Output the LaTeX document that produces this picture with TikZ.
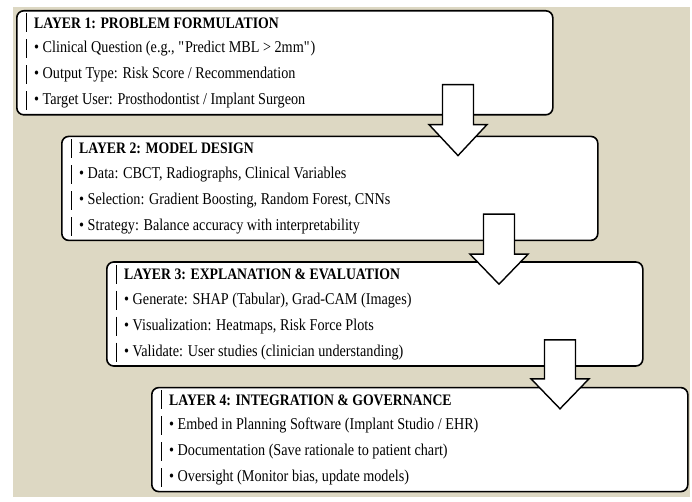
\documentclass[tikz,border=0pt]{standalone}
\usepackage{fontspec}
\setmainfont{Liberation Serif}[FakeStretch=0.86]
\usetikzlibrary{positioning}
\definecolor{bgbeige}{RGB}{221,216,195}

\tikzset{
  layer/.style={rectangle, rounded corners=7pt, draw=black, line width=1.6pt, fill=white, minimum width=536pt, minimum height=104pt},
  heading/.style={anchor=west, inner sep=0pt, font=\fontsize{16}{16}\selectfont\bfseries},
  item/.style={anchor=west, inner sep=0pt, font=\fontsize{16.5}{16.5}\selectfont},
  bar/.style={line width=0.8pt},
  blockarrow/.style={draw=black, line width=1.4pt, fill=white, line join=miter}
}

\begin{document}
\begin{tikzpicture}[x=1pt, y=-1pt]

\useasboundingbox (0,0) rectangle (692,502);
\fill[bgbeige] (13,7) rectangle (690,497);

% layer boxes
\node (l1) [layer, anchor=north west] at (16,10) {};
\node (l2) [layer, below right=20pt and 45pt of l1.south west] {};
\node (l3) [layer, below right=20pt and 45pt of l2.south west] {};
\node (l4) [layer, below right=20pt and 45pt of l3.south west] {};

% layer 1
\node (l1h) [heading] at ([xshift=18pt, yshift=-13pt]l1.north west) {LAYER 1: PROBLEM FORMULATION};
\node (l1a) [item, below=26pt of l1h.west, anchor=west] {• Clinical Question (e.g., \textquotedbl Predict MBL > 2mm\textquotedbl)};
\node (l1b) [item, below=26pt of l1a.west, anchor=west] {• Output Type: Risk Score / Recommendation};
\node (l1c) [item, below=26pt of l1b.west, anchor=west] {• Target User: Prosthodontist / Implant Surgeon};

% layer 2
\node (l2h) [heading] at ([xshift=18pt, yshift=-13pt]l2.north west) {LAYER 2: MODEL DESIGN};
\node (l2a) [item, below=26pt of l2h.west, anchor=west] {• Data: CBCT, Radiographs, Clinical Variables};
\node (l2b) [item, below=26pt of l2a.west, anchor=west] {• Selection: Gradient Boosting, Random Forest, CNNs};
\node (l2c) [item, below=26pt of l2b.west, anchor=west] {• Strategy: Balance accuracy with interpretability};

% layer 3
\node (l3h) [heading] at ([xshift=18pt, yshift=-13pt]l3.north west) {LAYER 3: EXPLANATION \& EVALUATION};
\node (l3a) [item, below=26pt of l3h.west, anchor=west] {• Generate: SHAP (Tabular), Grad-CAM (Images)};
\node (l3b) [item, below=26pt of l3a.west, anchor=west] {• Visualization: Heatmaps, Risk Force Plots};
\node (l3c) [item, below=26pt of l3b.west, anchor=west] {• Validate: User studies (clinician understanding)};

% layer 4
\node (l4h) [heading] at ([xshift=18pt, yshift=-13pt]l4.north west) {LAYER 4: INTEGRATION \& GOVERNANCE};
\node (l4a) [item, below=26pt of l4h.west, anchor=west] {• Embed in Planning Software (Implant Studio / EHR)};
\node (l4b) [item, below=26pt of l4a.west, anchor=west] {• Documentation (Save rationale to patient chart)};
\node (l4c) [item, below=26pt of l4b.west, anchor=west] {• Oversight (Monitor bias, update models)};

% bars in front of the lines
\draw [bar] ([xshift=-8pt, yshift=9.5pt]l1h.west) -- ([xshift=-8pt, yshift=-9.5pt]l1h.west);
\draw [bar] ([xshift=-8pt, yshift=9.5pt]l1a.west) -- ([xshift=-8pt, yshift=-9.5pt]l1a.west);
\draw [bar] ([xshift=-8pt, yshift=9.5pt]l1b.west) -- ([xshift=-8pt, yshift=-9.5pt]l1b.west);
\draw [bar] ([xshift=-8pt, yshift=9.5pt]l1c.west) -- ([xshift=-8pt, yshift=-9.5pt]l1c.west);
\draw [bar] ([xshift=-8pt, yshift=9.5pt]l2h.west) -- ([xshift=-8pt, yshift=-9.5pt]l2h.west);
\draw [bar] ([xshift=-8pt, yshift=9.5pt]l2a.west) -- ([xshift=-8pt, yshift=-9.5pt]l2a.west);
\draw [bar] ([xshift=-8pt, yshift=9.5pt]l2b.west) -- ([xshift=-8pt, yshift=-9.5pt]l2b.west);
\draw [bar] ([xshift=-8pt, yshift=9.5pt]l2c.west) -- ([xshift=-8pt, yshift=-9.5pt]l2c.west);
\draw [bar] ([xshift=-8pt, yshift=9.5pt]l3h.west) -- ([xshift=-8pt, yshift=-9.5pt]l3h.west);
\draw [bar] ([xshift=-8pt, yshift=9.5pt]l3a.west) -- ([xshift=-8pt, yshift=-9.5pt]l3a.west);
\draw [bar] ([xshift=-8pt, yshift=9.5pt]l3b.west) -- ([xshift=-8pt, yshift=-9.5pt]l3b.west);
\draw [bar] ([xshift=-8pt, yshift=9.5pt]l3c.west) -- ([xshift=-8pt, yshift=-9.5pt]l3c.west);
\draw [bar] ([xshift=-8pt, yshift=9.5pt]l4h.west) -- ([xshift=-8pt, yshift=-9.5pt]l4h.west);
\draw [bar] ([xshift=-8pt, yshift=9.5pt]l4a.west) -- ([xshift=-8pt, yshift=-9.5pt]l4a.west);
\draw [bar] ([xshift=-8pt, yshift=9.5pt]l4b.west) -- ([xshift=-8pt, yshift=-9.5pt]l4b.west);
\draw [bar] ([xshift=-8pt, yshift=9.5pt]l4c.west) -- ([xshift=-8pt, yshift=-9.5pt]l4c.west);

% block arrows
\coordinate (a1) at ([xshift=442pt]l1.south west);
\coordinate (a2) at ([xshift=438pt]l2.south west);
\coordinate (a3) at ([xshift=454pt]l3.south west);
\draw [blockarrow] (a1) ++(-15.5,-31) -- ++(31,0) -- ++(0,40) -- ++(13.5,0) -- ++(-29,31) -- ++(-29,-31) -- ++(13.5,0) -- cycle;
\draw [blockarrow] (a2) ++(-15.5,-27) -- ++(31,0) -- ++(0,40) -- ++(13.5,0) -- ++(-29,30) -- ++(-29,-30) -- ++(13.5,0) -- cycle;
\draw [blockarrow] (a3) ++(-15.5,-27) -- ++(31,0) -- ++(0,39) -- ++(13.5,0) -- ++(-29,30) -- ++(-29,-30) -- ++(13.5,0) -- cycle;

\end{tikzpicture}
\end{document}
